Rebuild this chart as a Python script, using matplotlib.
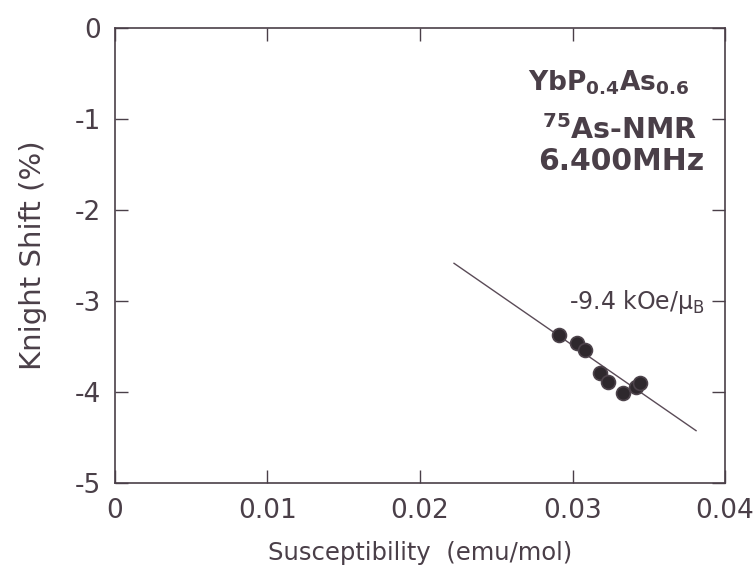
import matplotlib.pyplot as plt
import numpy as np

plt.rcParams['font.family'] = ['DejaVu Sans']
plt.rcParams['mathtext.fontset'] = 'dejavusans'

# data
chi = [0.02913, 0.03028, 0.03082, 0.03180, 0.03235, 0.03329, 0.03416, 0.03443]
shift = [-3.374, -3.458, -3.538, -3.795, -3.893, -4.008, -3.942, -3.905]
fit_x = [0.02223, 0.0381]
fit_y = [-2.586, -4.425]

ink = '#4a3f48'
dot = '#2e282d'

fig = plt.figure(figsize=(7.55, 5.78), dpi=100)
ax = fig.add_axes([0.1523, 0.1644, 0.808, 0.7872])

ax.plot(fit_x, fit_y, color='#5a4b57', lw=1.0)
ax.plot(chi, shift, 'o', ms=10, mfc=dot, mec='#4d434b', mew=1.2)

ax.set_xlim(0, 0.04)
ax.set_ylim(-5, 0)
ax.set_xticks([0, 0.01, 0.02, 0.03, 0.04])
ax.set_xticklabels(['0', '0.01', '0.02', '0.03', '0.04'])
ax.set_yticks([0, -1, -2, -3, -4, -5])
ax.set_yticklabels(['0', '-1', '-2', '-3', '-4', '-5'])

for s in ax.spines.values():
    s.set_color(ink)
    s.set_linewidth(1.2)
ax.tick_params(direction='in', length=9.5, width=1.0, color=ink,
               labelcolor=ink, labelsize=19, top=True, right=True)
ax.tick_params(axis='x', pad=11)
ax.tick_params(axis='y', pad=10)

ax.set_xlabel('Susceptibility  (emu/mol)', fontsize=17.5, color=ink, labelpad=12)
ax.set_ylabel('Knight Shift (%)', fontsize=21, color=ink, labelpad=20)

ax.text(0.0324, -0.6, r'$\mathbf{YbP_{0.4}As_{0.6}}$', fontsize=19,
        color=ink, ha='center', va='center')
ax.text(0.0331, -1.12, r'$\mathbf{^{75}}$' + 'As-NMR', fontsize=20.5,
        fontweight='bold', color=ink, ha='center', va='center')
ax.text(0.0332, -1.47, '6.400MHz', fontsize=21.5, fontweight='bold',
        color=ink, ha='center', va='center')
ax.text(0.0298, -3.01, r'-9.4 kOe/$\mathrm{\mu_B}$', fontsize=17,
        color=ink, ha='left', va='center')

fig.savefig('out.png', dpi=100)
